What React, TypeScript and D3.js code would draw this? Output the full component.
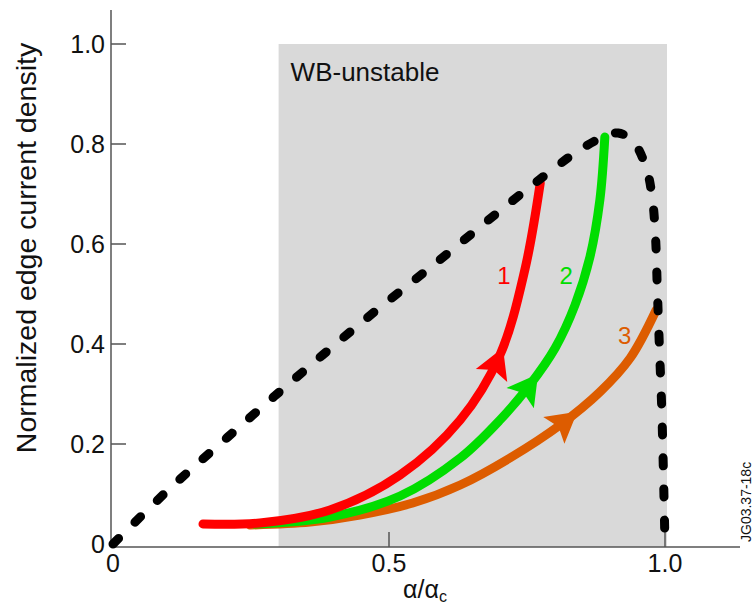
import React, { useEffect, useRef } from "react";
import * as d3 from "d3";

// Stability boundary (dashed) in normalized units
const boundaryX = [0, 0.1, 0.208, 0.333, 0.46, 0.587, 0.714, 0.8, 0.845, 0.89, 0.915, 0.942, 0.966, 0.977, 0.983, 0.986, 0.99, 0.994, 0.997, 1.0];
const boundaryY = [0, 0.108, 0.214, 0.334, 0.452, 0.564, 0.678, 0.752, 0.788, 0.815, 0.822, 0.806, 0.752, 0.692, 0.61, 0.512, 0.39, 0.274, 0.15, 0.0];

// Trajectory 1 (red)
const path1X = [0.163, 0.266, 0.393, 0.52, 0.629, 0.701, 0.746, 0.774];
const path1Y = [0.04, 0.042, 0.068, 0.138, 0.248, 0.378, 0.548, 0.722];

// Trajectory 2 (green)
const path2X = [0.257, 0.393, 0.52, 0.629, 0.701, 0.755, 0.801, 0.837, 0.864, 0.882, 0.891];
const path2Y = [0.04, 0.054, 0.096, 0.172, 0.248, 0.318, 0.392, 0.478, 0.574, 0.688, 0.814];

// Trajectory 3 (orange)
const path3X = [0.248, 0.357, 0.447, 0.543, 0.629, 0.719, 0.81, 0.882, 0.937, 0.984];
const path3Y = [0.038, 0.044, 0.058, 0.082, 0.118, 0.172, 0.238, 0.304, 0.372, 0.468];

const yTicks = [0.2, 0.4, 0.6, 0.8, 1.0];
const yTickLabels = ["0.2", "0.4", "0.6", "0.8", "1.0"];
const xTicks = [0.5, 1.0];
const xTickLabels = ["0.5", "1.0"];

const unstableRange = [0.3, 1.0];

const trajectories = [
  { name: "1", xs: path1X, ys: path1Y, color: "#ff0000", arrowAt: 0.7065, label: [0.708, 0.52] },
  { name: "2", xs: path2X, ys: path2Y, color: "#00dd00", arrowAt: 0.77, label: [0.821, 0.52] },
  { name: "3", xs: path3X, ys: path3Y, color: "#dd5c00", arrowAt: 0.841, label: [0.927, 0.4] },
];

const W = 754;
const H = 608;
const FONT = "'Liberation Sans', Arial, Helvetica, sans-serif";

export default function App() {
  const ref = useRef<SVGSVGElement | null>(null);

  useEffect(() => {
    const svg = d3.select(ref.current);
    svg.selectAll("*").remove();

    const x = d3.scaleLinear().domain([0, 1]).range([113, 665]);
    const y = d3.scaleLinear().domain([0, 1]).range([544, 44]);
    const axisY = 547;
    const axisColor = "#555";

    // shaded WB-unstable region
    svg.append("rect")
      .attr("x", x(unstableRange[0]))
      .attr("y", y(1))
      .attr("width", x(unstableRange[1]) - x(unstableRange[0]) + 2)
      .attr("height", axisY - y(1))
      .attr("fill", "#d9d9d9");

    svg.append("text")
      .attr("x", x(unstableRange[0]) + 12)
      .attr("y", 81)
      .attr("font-family", FONT)
      .attr("font-size", 26)
      .attr("fill", "#111")
      .text("WB-unstable");

    // axes
    svg.append("line").attr("x1", 111).attr("x2", 111).attr("y1", 10).attr("y2", axisY)
      .attr("stroke", axisColor).attr("stroke-width", 1.5);
    svg.append("line").attr("x1", 111).attr("x2", 740).attr("y1", axisY).attr("y2", axisY)
      .attr("stroke", axisColor).attr("stroke-width", 1.5);

    yTicks.forEach((t, i) => {
      svg.append("line").attr("x1", 111).attr("x2", 126).attr("y1", y(t)).attr("y2", y(t))
        .attr("stroke", axisColor).attr("stroke-width", 1.5);
      svg.append("text").attr("x", 105).attr("y", y(t) + 9)
        .attr("text-anchor", "end").attr("font-family", FONT).attr("font-size", 25)
        .attr("fill", "#111").text(yTickLabels[i]);
    });
    svg.append("text").attr("x", 105).attr("y", y(0) + 9)
      .attr("text-anchor", "end").attr("font-family", FONT).attr("font-size", 25)
      .attr("fill", "#111").text("0");

    xTicks.forEach((t, i) => {
      svg.append("line").attr("x1", x(t)).attr("x2", x(t)).attr("y1", axisY).attr("y2", axisY - 15)
        .attr("stroke", axisColor).attr("stroke-width", 1.5);
      svg.append("text").attr("x", x(t)).attr("y", 572)
        .attr("text-anchor", "middle").attr("font-family", FONT).attr("font-size", 25)
        .attr("fill", "#111").text(xTickLabels[i]);
    });
    svg.append("text").attr("x", x(0)).attr("y", 572)
      .attr("text-anchor", "middle").attr("font-family", FONT).attr("font-size", 25)
      .attr("fill", "#111").text("0");

    // axis titles
    const xt = svg.append("text").attr("x", 425).attr("y", 598)
      .attr("text-anchor", "middle").attr("font-family", FONT).attr("font-size", 25)
      .attr("fill", "#111");
    xt.append("tspan").text("\u03b1/\u03b1");
    xt.append("tspan").attr("font-size", 16).attr("dy", 4).text("c");

    svg.append("text")
      .attr("transform", `translate(36,248) rotate(-90)`)
      .attr("text-anchor", "middle").attr("font-family", FONT).attr("font-size", 28.5)
      .attr("fill", "#111").text("Normalized edge current density");

    svg.append("text")
      .attr("transform", `translate(751,542) rotate(-90)`)
      .attr("text-anchor", "start").attr("font-family", FONT).attr("font-size", 14)
      .attr("fill", "#111").text("JG03.37-18c");

    const line = d3.line<[number, number]>()
      .x((d) => x(d[0]))
      .y((d) => y(d[1]))
      .curve(d3.curveCatmullRom.alpha(0.5));

    // trajectories, drawn back to front
    [...trajectories].reverse().forEach((tr) => {
      const pts: [number, number][] = tr.xs.map((v, i) => [v, tr.ys[i]]);
      const p = svg.append("path")
        .attr("d", line(pts))
        .attr("fill", "none")
        .attr("stroke", tr.color)
        .attr("stroke-width", 9)
        .attr("stroke-linecap", "round");

      // arrowhead placed where the curve reaches the given abscissa
      const node = p.node() as SVGPathElement;
      const total = node.getTotalLength();
      const targetPx = x(tr.arrowAt);
      let L = 0;
      for (let s = 0; s <= total; s += 0.5) {
        if (node.getPointAtLength(s).x >= targetPx) { L = s; break; }
      }
      const tip = node.getPointAtLength(L);
      const back = node.getPointAtLength(Math.max(0, L - 6));
      const ang = Math.atan2(tip.y - back.y, tip.x - back.x) * 180 / Math.PI;
      const len = 30, half = 17;
      svg.append("path")
        .attr("d", `M0,0 L${-len},${-half} L${-len + 6},0 L${-len},${half} Z`)
        .attr("transform", `translate(${tip.x},${tip.y}) rotate(${ang})`)
        .attr("fill", tr.color);

      svg.append("text")
        .attr("x", x(tr.label[0])).attr("y", y(tr.label[1]))
        .attr("text-anchor", "middle").attr("font-family", FONT).attr("font-size", 24)
        .attr("fill", tr.color).text(tr.name);
    });

    // dashed stability boundary on top
    const bpts: [number, number][] = boundaryX.map((v, i) => [v, boundaryY[i]]);
    svg.append("path")
      .attr("d", line(bpts))
      .attr("fill", "none")
      .attr("stroke", "#000")
      .attr("stroke-width", 9)
      .attr("stroke-linecap", "round")
      .attr("stroke-dasharray", "8 23");
  }, []);

  return (
    <svg
      ref={ref}
      width={W}
      height={H}
      style={{ position: "absolute", left: 0, top: 0, background: "#fff" }}
    />
  );
}
